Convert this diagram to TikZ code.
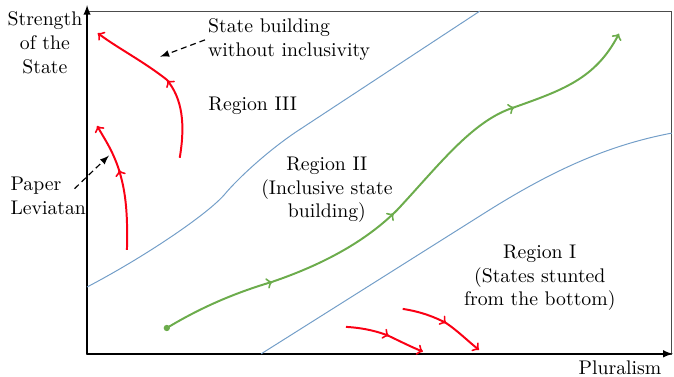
\documentclass[tikz,border=0pt]{standalone}
\usepackage{tikz}
\usetikzlibrary{decorations.markings}
\usepackage{amsmath}
\usepackage{xcolor}
\definecolor{regionblue}{RGB}{115,158,200}
\definecolor{pathgreen}{RGB}{108,172,76}
\definecolor{pathred}{RGB}{250,0,20}

\begin{document}
\begin{tikzpicture}[
  redpath/.style={color=pathred, line width=1pt, ->},
  greenpath/.style={color=pathgreen, line width=1pt, ->},
  border/.style={color=regionblue, line width=0.5pt},
  midarrow/.style={decoration={markings, mark=at position #1 with {\arrow{>}}}, postaction={decorate}},
  note/.style={densely dashed, -latex, line width=0.6pt}]
\useasboundingbox (0,0) rectangle (12,6.71);

% frame and axes
\draw[color=black!70, line width=0.7pt] (1.55,0.41) rectangle (11.96,6.51);
\draw[-latex, line width=0.7pt] (1.55,0.41) -- (1.55,6.62);
\draw[-latex, line width=0.7pt] (1.55,0.41) -- (11.98,0.41);

% region borders
\draw[border] (1.55,1.60) .. controls (2.6,2.15) and (3.7,2.9) .. (4.0,3.25)
  .. controls (4.25,3.55) and (4.8,4.05) .. (5.3,4.38) -- (8.54,6.51);
\draw[border] (4.65,0.41) -- (8.6,2.90) .. controls (9.8,3.66) and (10.8,4.12) .. (11.96,4.34);

% inclusive path
\fill[color=pathgreen] (2.97,0.87) circle (1.6pt);
\draw[greenpath, decoration={markings,
    mark=at position 0.21 with {\arrow{>}},
    mark=at position 0.465 with {\arrow{>}},
    mark=at position 0.76 with {\arrow{>}}}, postaction={decorate}]
  (2.97,0.87) .. controls (3.6,1.25) and (4.2,1.5) .. (4.84,1.69)
  .. controls (5.9,2.05) and (6.6,2.5) .. (7.07,2.97)
  .. controls (7.8,3.75) and (8.4,4.55) .. (9.13,4.79)
  .. controls (10.0,5.1) and (10.6,5.3) .. (11.02,6.11);

% red paths
\draw[redpath, midarrow=0.49] (3.20,3.90) .. controls (3.30,4.5) and (3.25,4.95) .. (2.97,5.29)
  .. controls (2.55,5.62) and (2.1,5.85) .. (1.74,6.12);
\draw[redpath, midarrow=0.62] (2.26,2.26) .. controls (2.28,3.0) and (2.22,3.35) .. (2.12,3.68)
  .. controls (2.0,4.05) and (1.85,4.25) .. (1.73,4.47);
\draw[redpath, midarrow=0.54] (6.16,0.89) .. controls (6.5,0.87) and (6.75,0.8) .. (6.92,0.73)
  .. controls (7.15,0.62) and (7.35,0.52) .. (7.53,0.45);
\draw[redpath, midarrow=0.52] (7.17,1.21) .. controls (7.5,1.16) and (7.75,1.06) .. (7.94,0.96)
  .. controls (8.15,0.82) and (8.35,0.62) .. (8.53,0.48);

% labels
\node (strength) at (0.80,5.95) [align=center] {Strength\\of the\\State};
\node (paper) at (0.18,3.22) [anchor=west, align=left, inner sep=0pt] {Paper\\Leviatan};
\node (statebuild) at (3.70,6.00) [anchor=west, align=left, inner sep=0pt] {State building\\without inclusivity};
\node (region3) at (4.50,4.82) {Region III};
\node (region2) at (5.82,3.33) [align=center] {Region II\\(Inclusive state\\building)};
\node (region1) at (9.61,1.76) [align=center] {Region I\\(States stunted\\from the bottom)};
\node (pluralism) at (11.04,0.16) {Pluralism};

\coordinate (sbtip) at (2.85,5.70);
\coordinate (papertip) at (1.94,3.94);
\draw[note] ([xshift=-0.05cm]statebuild.west) -- (sbtip);
\draw[note] ([xshift=-0.21cm, yshift=0.13cm]paper.east) -- (papertip);
\end{tikzpicture}
\end{document}
